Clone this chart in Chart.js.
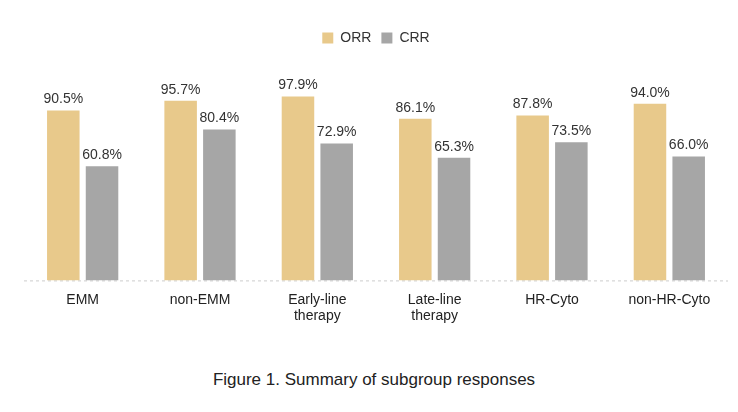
<!DOCTYPE html>
<html>
<head>
<meta charset="utf-8">
<script src="https://cdn.jsdelivr.net/npm/chart.js@4"></script>
<style>
  body { margin: 0; background: #fff; font-family: "Liberation Sans", Arial, sans-serif; }
  #wrap { width: 738px; height: 328px; position: relative; }
  #caption { text-align: center; font-size: 17px; color: #222; margin-top: 42px; padding-left: 10px; }
</style>
</head>
<body>
<div id="wrap"><canvas id="myChart"></canvas></div>
<div id="caption">Figure 1. Summary of subgroup responses</div>
<script>
  // subgroup response rates (%)
  const labels = ['EMM', 'non-EMM', ['Early-line', 'therapy'], ['Late-line', 'therapy'], 'HR-Cyto', 'non-HR-Cyto'];
  const orr = [90.5, 95.7, 97.9, 86.1, 87.8, 94.0];
  const crr = [60.8, 80.4, 72.9, 65.3, 73.5, 66.0];

  // draw value labels above bars
  const valueLabels = {
    id: 'valueLabels',
    afterDatasetsDraw(chart) {
      const ctx = chart.ctx;
      ctx.save();
      ctx.font = '14px "Liberation Sans", Arial, sans-serif';
      ctx.fillStyle = '#333';
      ctx.textAlign = 'center';
      ctx.textBaseline = 'bottom';
      chart.data.datasets.forEach((ds, i) => {
        chart.getDatasetMeta(i).data.forEach((bar, j) => {
          ctx.fillText(ds.data[j].toFixed(1) + '%', bar.x, bar.y - 4);
        });
      });
      ctx.restore();
    }
  };

  // dashed baseline
  const baseline = {
    id: 'baseline',
    beforeDatasetsDraw(chart) {
      const ctx = chart.ctx, a = chart.chartArea;
      const y = chart.scales.y.getPixelForValue(0);
      ctx.save();
      ctx.strokeStyle = '#ccc';
      ctx.setLineDash([3, 3]);
      ctx.beginPath();
      ctx.moveTo(a.left, y + 0.5);
      ctx.lineTo(a.right, y + 0.5);
      ctx.stroke();
      ctx.restore();
    }
  };

  new Chart(document.getElementById('myChart'), {
    type: 'bar',
    data: {
      labels: labels,
      datasets: [
        { label: 'ORR', data: orr, backgroundColor: '#E8C98B' },
        { label: 'CRR', data: crr, backgroundColor: '#A6A6A6' }
      ]
    },
    options: {
      responsive: true,
      maintainAspectRatio: false,
      animation: false,
      layout: { padding: { left: 24, right: 10, top: 21, bottom: 0 } },
      datasets: { bar: { categoryPercentage: 0.66, barPercentage: 0.84 } },
      plugins: {
        legend: {
          labels: {
            boxWidth: 11, boxHeight: 11, color: '#333',
            font: { size: 14, family: '"Liberation Sans", Arial, sans-serif' }
          }
        },
        tooltip: { enabled: false }
      },
      scales: {
        x: {
          grid: { display: false },
          border: { display: false },
          ticks: { color: '#222', font: { size: 14, family: '"Liberation Sans", Arial, sans-serif' } }
        },
        y: { display: false, min: 0, max: 120 }
      }
    },
    plugins: [valueLabels, baseline]
  });
</script>
</body>
</html>
